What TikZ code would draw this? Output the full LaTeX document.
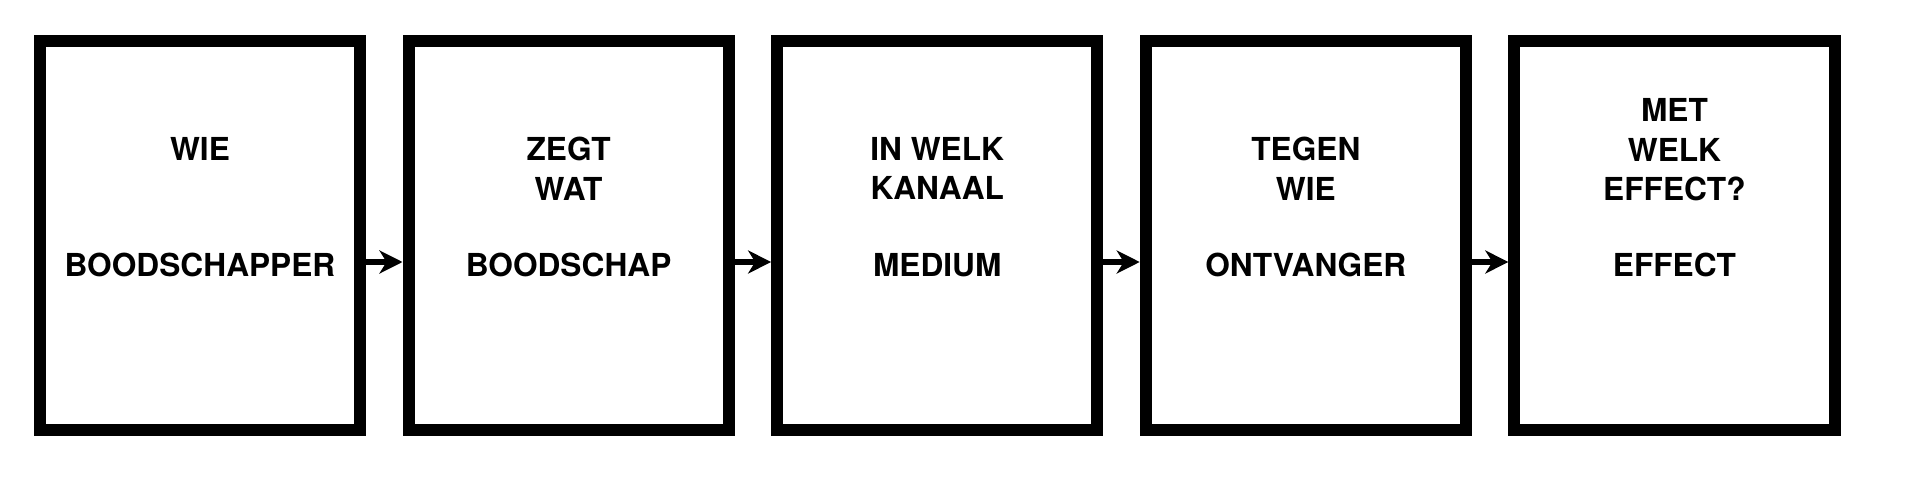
\documentclass[tikz,border=0pt]{standalone}
\usepackage{fontspec}
\setmainfont{TeX Gyre Heros}
\usetikzlibrary{positioning,arrows.meta}

\tikzset{
	card/.style={draw, line width=0.12cm, minimum width=3.2cm, minimum height=3.896cm, inner sep=0pt},
	ask/.style={font=\fontsize{9}{11.18}\selectfont\bfseries, align=center, inner sep=0pt, anchor=north},
	role/.style={font=\fontsize{9}{11.18}\selectfont\bfseries, inner sep=0pt, anchor=base},
	flow/.style={line width=0.055cm, -{Stealth[length=0.23cm, width=0.23cm, inset=0.07cm]}}
}

\begin{document}
\begin{tikzpicture}[x=0.01cm, y=-0.01cm]
	\useasboundingbox (0,0) rectangle (1920,486);

	\node[card] (b1) at (200,235.5) {};
	\node[card, right=0.364cm of b1] (b2) {};
	\node[card, right=0.364cm of b2] (b3) {};
	\node[card, right=0.364cm of b3] (b4) {};
	\node[card, right=0.364cm of b4] (b5) {};

	\node[ask] (q1) at ([yshift=0.988cm]b1.center) {WIE};
	\node[ask] (q2) at ([yshift=0.988cm]b2.center) {ZEGT\\WAT};
	\node[ask] (q3) at ([yshift=0.988cm]b3.center) {IN WELK\\KANAAL};
	\node[ask] (q4) at ([yshift=0.988cm]b4.center) {TEGEN\\WIE};
	\node[ask] (q5) at ([yshift=1.372cm]b5.center) {MET\\WELK\\EFFECT?};

	\node[role] (r1) at ([yshift=-0.412cm]b1.center) {BOODSCHAPPER};
	\node[role] (r2) at ([yshift=-0.412cm]b2.center) {BOODSCHAP};
	\node[role] (r3) at ([yshift=-0.412cm]b3.center) {MEDIUM};
	\node[role] (r4) at ([yshift=-0.412cm]b4.center) {ONTVANGER};
	\node[role] (r5) at ([yshift=-0.412cm]b5.center) {EFFECT};

	\foreach \a/\b in {b1/b2, b2/b3, b3/b4, b4/b5}
		\draw[flow] ([yshift=-0.265cm]\a.east) -- ([yshift=-0.265cm]\b.west);
\end{tikzpicture}
\end{document}
